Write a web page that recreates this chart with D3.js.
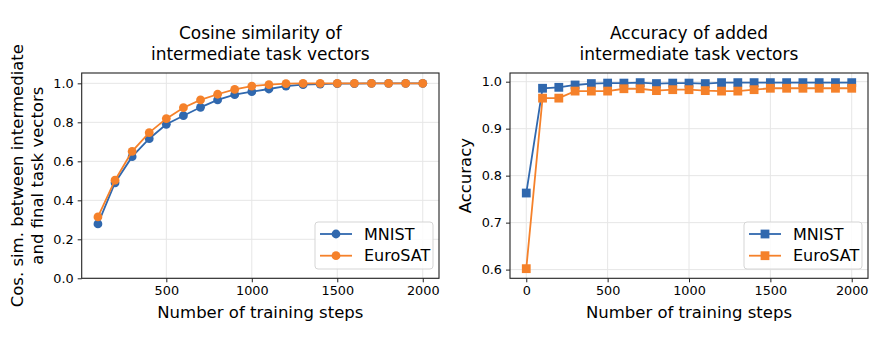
<!DOCTYPE html>
<html><head><meta charset="utf-8">
<script src="https://cdn.jsdelivr.net/npm/d3@7"></script>
<style>
body{margin:0;background:#fff;}
text{font-family:"DejaVu Sans",sans-serif;fill:#000;}
</style></head>
<body><svg id="c" width="894" height="343"></svg>
<script>
const stepsCos = [100,200,300,400,500,600,700,800,900,1000,1100,1200,1300,1400,1500,1600,1700,1800,1900,2000];
const cosMNIST = [0.279,0.490,0.624,0.716,0.790,0.834,0.877,0.915,0.942,0.957,0.971,0.986,0.993,0.996,0.998,0.999,1.0,1.0,1.0,1.0];
const cosEuroSAT = [0.315,0.503,0.651,0.747,0.819,0.875,0.915,0.944,0.969,0.986,0.993,0.998,1.0,1.0,1.0,1.0,1.0,1.0,1.0,1.0];
const stepsAcc = [0,100,200,300,400,500,600,700,800,900,1000,1100,1200,1300,1400,1500,1600,1700,1800,1900,2000];
const accMNIST = [0.763,0.986,0.988,0.993,0.996,0.997,0.997,0.998,0.996,0.997,0.997,0.996,0.998,0.998,0.998,0.998,0.998,0.998,0.998,0.998,0.998];
const accEuroSAT = [0.602,0.965,0.965,0.980,0.980,0.980,0.985,0.985,0.981,0.983,0.983,0.981,0.980,0.980,0.983,0.986,0.986,0.986,0.986,0.986,0.986];
const seriesNames = ["MNIST","EuroSAT"];
const colors = ["#3068ae","#f5812a"];
const cosTicks = [0,0.2,0.4,0.6,0.8,1.0];
const accTicks = [0.6,0.7,0.8,0.9,1.0];
const xTicksCos = [500,1000,1500,2000];
const xTicksAcc = [0,500,1000,1500,2000];

const svg = d3.select("#c");
const FT = 17, FL = 16.5, FLEG = 16, FTK = 12.8;

function panel(o){
  const g = svg.append("g");
  const x = d3.scaleLinear().domain(o.xdom).range([o.l,o.r]);
  const y = d3.scaleLinear().domain(o.ydom).range([o.b,o.t]);
  g.append("g").selectAll("line").data(o.xticks).join("line")
    .attr("x1",d=>x(d)).attr("x2",d=>x(d)).attr("y1",o.t).attr("y2",o.b)
    .attr("stroke","#e6e6e6").attr("stroke-width",1);
  g.append("g").selectAll("line").data(o.yticks).join("line")
    .attr("x1",o.l).attr("x2",o.r).attr("y1",d=>y(d)).attr("y2",d=>y(d))
    .attr("stroke","#e6e6e6").attr("stroke-width",1);
  const xa = g.append("g").attr("transform",`translate(0,${o.b})`)
    .call(d3.axisBottom(x).tickValues(o.xticks).tickSize(4).tickPadding(4).tickFormat(d3.format("d")));
  const ya = g.append("g").attr("transform",`translate(${o.l},0)`)
    .call(d3.axisLeft(y).tickValues(o.yticks).tickSize(4).tickPadding(4).tickFormat(d3.format(".1f")));
  [xa,ya].forEach(a=>{
    a.select(".domain").remove();
    a.selectAll("text").attr("font-size",FTK).attr("font-family","DejaVu Sans").attr("fill","#222");
    a.selectAll("line").attr("stroke","#222");
  });
  g.append("rect").attr("x",o.l).attr("y",o.t).attr("width",o.r-o.l).attr("height",o.b-o.t)
    .attr("fill","none").attr("stroke","#222").attr("stroke-width",1.1);
  o.series.forEach((s,i)=>{
    const line = d3.line().x((d,j)=>x(o.xs[j])).y(d=>y(d));
    g.append("path").datum(s).attr("d",line).attr("fill","none")
      .attr("stroke",colors[i]).attr("stroke-width",1.8);
    const m = g.append("g").selectAll("x").data(s).join(o.marker==="circle"?"circle":"rect");
    if(o.marker==="circle"){
      m.attr("cx",(d,j)=>x(o.xs[j])).attr("cy",d=>y(d)).attr("r",4.4).attr("fill",colors[i]);
    } else {
      m.attr("x",(d,j)=>x(o.xs[j])-4.4).attr("y",d=>y(d)-4.4).attr("width",8.8).attr("height",8.8).attr("fill",colors[i]);
    }
  });
  g.append("text").attr("x",(o.l+o.r)/2).attr("y",39).attr("text-anchor","middle").attr("font-size",FT).text(o.title[0]);
  g.append("text").attr("x",(o.l+o.r)/2).attr("y",60).attr("text-anchor","middle").attr("font-size",FT).text(o.title[1]);
  g.append("text").attr("x",(o.l+o.r)/2).attr("y",318).attr("text-anchor","middle").attr("font-size",FL).text("Number of training steps");
  o.ylab.forEach((t,k)=>{
    g.append("text").attr("transform",`translate(${o.ylx[k]},${(o.t+o.b)/2}) rotate(-90)`)
      .attr("text-anchor","middle").attr("font-size",FL).text(t);
  });
  const L = o.leg;
  g.append("rect").attr("x",L.x).attr("y",L.y).attr("width",L.w).attr("height",L.h).attr("rx",3)
    .attr("fill","#fff").attr("fill-opacity",0.85).attr("stroke","#d5d5d5");
  seriesNames.forEach((n,i)=>{
    const yy = L.y + 12 + i*21.7;
    g.append("line").attr("x1",L.x+5).attr("x2",L.x+37).attr("y1",yy).attr("y2",yy).attr("stroke",colors[i]).attr("stroke-width",1.8);
    if(o.marker==="circle") g.append("circle").attr("cx",L.x+21).attr("cy",yy).attr("r",4.4).attr("fill",colors[i]);
    else g.append("rect").attr("x",L.x+21-4.4).attr("y",yy-4.4).attr("width",8.8).attr("height",8.8).attr("fill",colors[i]);
    g.append("text").attr("x",L.x+49).attr("y",yy+5.6).attr("font-size",FLEG).text(n);
  });
}

panel({l:81.7,r:439,t:73,b:278.3,xdom:[5,2095],ydom:[0,1.053],xs:stepsCos,
  series:[cosMNIST,cosEuroSAT],marker:"circle",xticks:xTicksCos,yticks:cosTicks,
  title:["Cosine similarity of","intermediate task vectors"],
  ylab:["Cos. sim. between intermediate","and final task vectors"],ylx:[22.5,43],
  leg:{x:315,y:222,w:118,h:47}});
panel({l:510,r:868,t:73,b:278.3,xdom:[-100,2100],ydom:[0.5815,1.0185],xs:stepsAcc,
  series:[accMNIST,accEuroSAT],marker:"square",xticks:xTicksAcc,yticks:accTicks,
  title:["Accuracy of added","intermediate task vectors"],
  ylab:["Accuracy"],ylx:[471],
  leg:{x:744,y:222,w:118,h:47}});
</script></body></html>
